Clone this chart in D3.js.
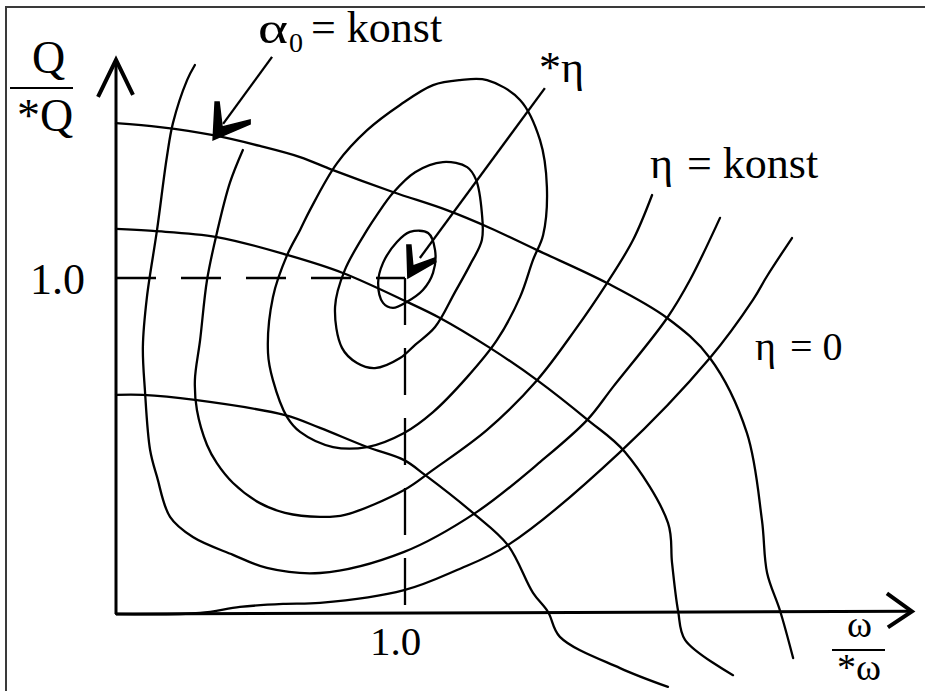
<!DOCTYPE html>
<html>
<head>
<meta charset="utf-8">
<script src="https://cdn.jsdelivr.net/npm/d3@7"></script>
<style>
  html, body { margin: 0; padding: 0; background: #fff; }
  svg { display: block; }
  text { font-family: "Liberation Serif", "Times New Roman", serif; fill: #000; }
</style>
</head>
<body>
<svg id="chart" width="925" height="691"></svg>
<script>
// Pump characteristic map: flow ratio Q/*Q against speed ratio ω/*ω.

// Axis ticks (normalised values)
const xTicks = [1.0];
const yTicks = [1.0];

// Blade-angle curves α0 = konst  [ω/*ω, Q/*Q]
const alphaHigh = [[0,1.461],[0.152,1.449],[0.336,1.425],[0.498,1.393],[0.637,1.360],[0.751,1.321],
  [0.958,1.256],[1.145,1.202],[1.294,1.149],[1.457,1.083],[1.699,0.985],[1.907,0.881],[2.055,0.762],
  [2.183,0.539],[2.235,0.280],[2.253,0.122],[2.298,0.009],[2.343,-0.131]];
const alphaMid = [[0,1.146],[0.128,1.140],[0.349,1.122],[0.595,1.068],[0.785,1.015],[1.007,0.929],
  [1.121,0.881],[1.294,0.792],[1.457,0.696],[1.633,0.577],[1.761,0.482],[1.910,0.271],[1.924,0.152],
  [1.945,0.009],[1.969,-0.077],[2.135,-0.182]];
const alphaLow = [[0,0.652],[0.093,0.652],[0.273,0.637],[0.585,0.592],[0.706,0.554],[0.869,0.497],
  [0.997,0.458],[1.069,0.414],[1.235,0.301],[1.356,0.205],[1.443,0.063],[1.495,0.006],[1.536,-0.068],
  [1.744,-0.161],[1.910,-0.217]];

// Closed efficiency contours η = konst around the best point *η
const etaRing1 = [[1.017,1.137],[1.080,1.134],[1.104,1.083],[1.097,1.015],[1.062,0.964],[1.007,0.929],
  [0.958,0.911],[0.924,0.926],[0.907,0.985],[0.924,1.045],[0.972,1.107]];
const etaRing2 = [[1.131,1.345],[1.215,1.330],[1.246,1.292],[1.266,1.193],[1.266,1.113],[1.225,1.039],
  [1.173,0.958],[1.104,0.854],[1.035,0.801],[0.983,0.762],[0.896,0.732],[0.834,0.747],[0.782,0.792],
  [0.758,0.914],[0.792,1.024],[0.869,1.143],[0.903,1.188],[0.958,1.253],[1.035,1.315]];
const etaRing3 = [[1.190,1.589],[1.284,1.589],[1.398,1.530],[1.467,1.411],[1.491,1.271],[1.478,1.128],
  [1.443,1.054],[1.398,0.943],[1.318,0.815],[1.215,0.705],[1.097,0.601],[0.997,0.539],[0.869,0.497],
  [0.751,0.497],[0.637,0.542],[0.592,0.586],[0.543,0.696],[0.526,0.777],[0.543,0.943],[0.592,1.068],
  [0.637,1.143],[0.671,1.202],[0.765,1.342],[0.869,1.440],[0.983,1.515],[1.097,1.574]];

// Open efficiency contours
const etaOpen1 = [[0.439,1.381],[0.394,1.283],[0.349,1.134],[0.315,0.994],[0.291,0.815],[0.273,0.696],
  [0.280,0.607],[0.315,0.503],[0.349,0.449],[0.405,0.390],[0.498,0.330],[0.585,0.301],[0.706,0.289],
  [0.792,0.295],[0.997,0.369],[1.097,0.429],[1.284,0.548],[1.457,0.696],[1.588,0.845],[1.699,0.985],
  [1.789,1.113],[1.855,1.247]];
const etaOpen2 = [[0.273,1.634],[0.246,1.589],[0.197,1.461],[0.176,1.360],[0.142,1.143],[0.107,0.943],
  [0.093,0.795],[0.100,0.667],[0.118,0.488],[0.142,0.408],[0.187,0.289],[0.266,0.229],[0.405,0.176],
  [0.522,0.137],[0.706,0.122],[0.997,0.185],[1.249,0.304],[1.467,0.452],[1.630,0.577],[1.720,0.676],
  [1.907,0.881],[1.986,0.994],[2.090,1.179]];
// η = 0 boundary leaving the origin
const etaZero = [[0,0],[0.291,0.003],[0.429,0.021],[0.578,0.030],[0.706,0.033],[0.997,0.071],
  [1.180,0.131],[1.356,0.205],[1.744,0.482],[2.055,0.762],[2.204,0.935],[2.253,1.006],[2.339,1.119]];

// Best-efficiency point and annotation pointers
const bestPoint = [1.0, 1.0];
const axisEnds = { x: 2.754, y: 1.649 };
const alphaPointer = { from: [0.540, 1.658], to: [0.336, 1.411] };
const etaPointer = { from: [1.484, 1.565], to: [1.01, 1.0] };

const svg = d3.select("#chart");
const x = d3.scaleLinear().domain([0, 1]).range([116, 405]);
const y = d3.scaleLinear().domain([0, 1]).range([614, 278]);

// frame
svg.append("rect").attr("x", 6).attr("y", 7).attr("width", 1000).attr("height", 1000)
  .attr("fill", "none").attr("stroke", "#3a3a3a").attr("stroke-width", 2);

const ink = "#000";
const open = d3.line().x(d => x(d[0])).y(d => y(d[1])).curve(d3.curveCatmullRom.alpha(0.5));
const closed = d3.line().x(d => x(d[0])).y(d => y(d[1])).curve(d3.curveCatmullRomClosed.alpha(0.5));

const curves = svg.append("g").attr("fill", "none").attr("stroke", ink)
  .attr("stroke-width", 2.3).attr("stroke-linejoin", "round").attr("stroke-linecap", "round");
[alphaHigh, alphaMid, alphaLow, etaOpen1, etaOpen2, etaZero].forEach(c =>
  curves.append("path").attr("d", open(c)));
[etaRing1, etaRing2, etaRing3].forEach(c =>
  curves.append("path").attr("d", closed(c)));

// dashed guides to the best point
svg.append("line").attr("x1", x(0)).attr("y1", y(bestPoint[1])).attr("x2", x(bestPoint[0])).attr("y2", y(bestPoint[1]))
  .attr("stroke", ink).attr("stroke-width", 2.3).attr("stroke-dasharray", "40,25");
svg.append("line").attr("x1", x(bestPoint[0])).attr("y1", y(bestPoint[1])).attr("x2", x(bestPoint[0])).attr("y2", y(0))
  .attr("stroke", ink).attr("stroke-width", 2.3).attr("stroke-dasharray", "47,23");

// axes with open arrow heads
const axes = svg.append("g").attr("fill", "none").attr("stroke", ink).attr("stroke-width", 3);
axes.append("line").attr("x1", x(0)).attr("y1", y(0)).attr("x2", x(0)).attr("y2", y(axisEnds.y));
axes.append("line").attr("x1", x(0)).attr("y1", y(0)).attr("x2", x(axisEnds.x)).attr("y2", y(0.008));
const yTip = [x(0), y(axisEnds.y)];
axes.append("path").attr("stroke-width", 4).attr("stroke-linejoin", "miter")
  .attr("d", `M${yTip[0]-18},${yTip[1]+37} L${yTip[0]},${yTip[1]} L${yTip[0]+17},${yTip[1]+35}`);
const xTip = [x(axisEnds.x), y(0.008)];
axes.append("path").attr("stroke-width", 4).attr("stroke-linejoin", "miter")
  .attr("d", `M${xTip[0]-25},${xTip[1]-18} L${xTip[0]},${xTip[1]} L${xTip[0]-24},${xTip[1]+16}`);

// tick labels via d3 axes
const yAxis = svg.append("g").attr("transform", `translate(${x(0)},0)`)
  .call(d3.axisLeft(y).tickValues(yTicks).tickFormat(d3.format(".1f")).tickSize(0).tickPadding(31));
const xAxis = svg.append("g").attr("transform", `translate(0,${y(0)})`)
  .call(d3.axisBottom(x).tickValues(xTicks).tickFormat(d3.format(".1f")).tickSize(0).tickPadding(12));
[yAxis, xAxis].forEach(a => { a.select(".domain").remove();
  a.selectAll("text").attr("fill", ink).style("font-family", '"Liberation Serif", serif'); });
yAxis.selectAll("text").style("font-size", "44px").attr("dy", "0.36em");
xAxis.selectAll("text").style("font-size", "41px").attr("dx", "-10");

// pointer arrows with filled heads
function pointer(p, head, shaftEnd) {
  const t = [x(p.to[0]), y(p.to[1])];
  svg.append("line").attr("x1", x(p.from[0])).attr("y1", y(p.from[1]))
    .attr("x2", t[0] + shaftEnd[0]).attr("y2", t[1] + shaftEnd[1])
    .attr("stroke", ink).attr("stroke-width", 2.3);
  svg.append("path").attr("fill", ink).attr("stroke", ink).attr("stroke-width", 1.5)
    .attr("d", "M" + head.map(o => `${t[0]+o[0]},${t[1]+o[1]}`).join("L") + "Z");
}
pointer(alphaPointer, [[0,0],[2,-38],[6,-38],[9,-13],[37,-20],[37,-16]], [10,-16]);
pointer(etaPointer, [[0,0],[-1,-33],[3,-33],[5,-12],[27,-20],[28,-16]], [12,-20]);

// labels
const lab = svg.append("g");
function txt(s, px, py, size) {
  return lab.append("text").attr("x", px).attr("y", py).style("font-size", size + "px").text(s);
}
// ordinate label Q / *Q
txt("Q", 32, 73, 46);
lab.append("line").attr("x1", 10).attr("x2", 73).attr("y1", 88).attr("y2", 88).attr("stroke", ink).attr("stroke-width", 2);
txt("*Q", 17, 131, 46);
// abscissa label ω / *ω
txt("ω", 847, 637, 38);
lab.append("line").attr("x1", 832).attr("x2", 885).attr("y1", 650).attr("y2", 650).attr("stroke", ink).attr("stroke-width", 2);
txt("*ω", 837, 680, 38);
// α0 = konst
txt("α", 258, 43, 44).attr("textLength", 30).attr("lengthAdjust", "spacingAndGlyphs");
txt("0", 289, 52, 28);
txt("= konst", 311, 42, 44);
// *η
txt("*η", 539, 82, 44);
// η = konst
txt("η", 650, 178, 44);
txt("= konst", 687, 178, 44);
// η = 0
txt("η", 755, 360, 40);
txt("= 0", 790, 360, 40);
</script>
</body>
</html>
